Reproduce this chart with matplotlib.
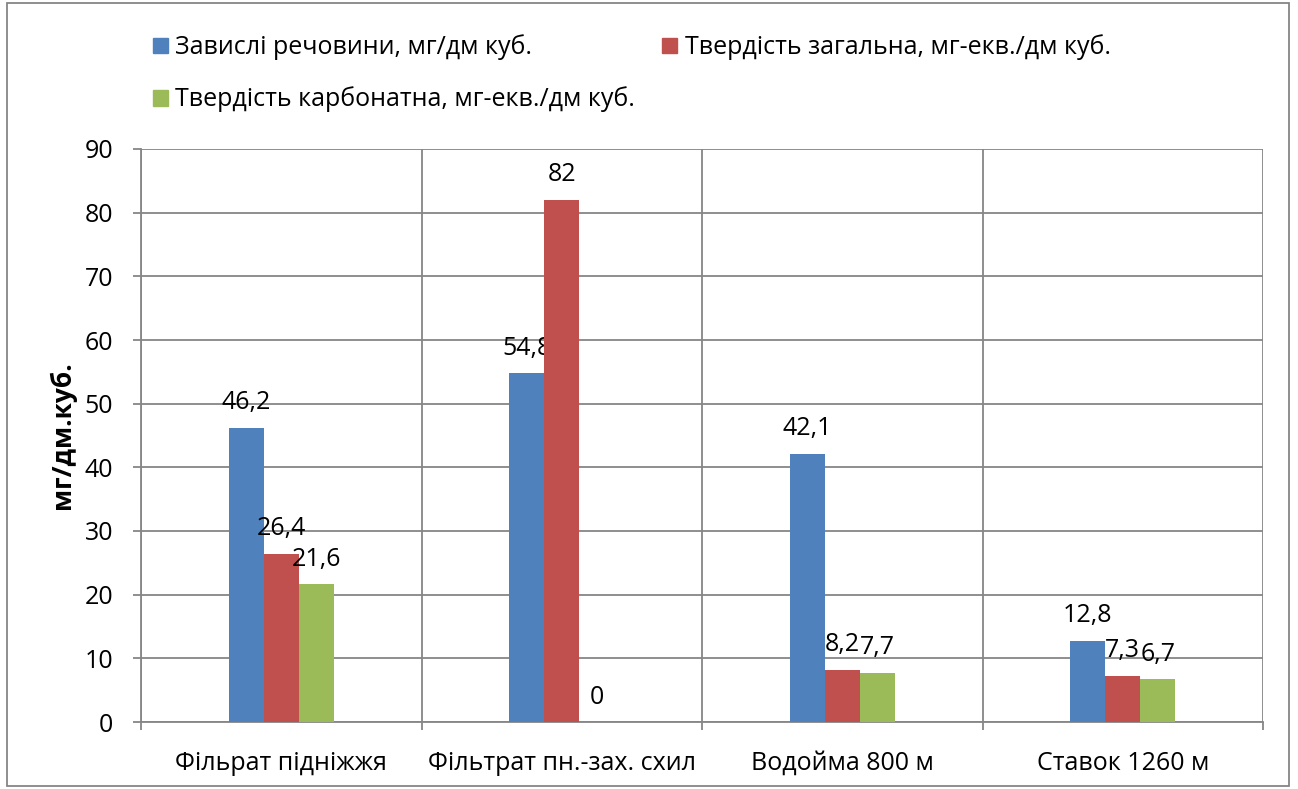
import matplotlib.pyplot as plt
import numpy as np
from matplotlib.patches import Rectangle, Patch

plt.rcParams['font.family'] = ['Open Sans', 'DejaVu Sans']

# data
categories = ['Фільрат підніжжя', 'Фільтрат пн.-зах. схил', 'Водойма 800 м', 'Ставок 1260 м']
series_names = ['Завислі речовини, мг/дм куб.',
                'Твердість загальна, мг-екв./дм куб.',
                'Твердість карбонатна, мг-екв./дм куб.']
suspended = [46.2, 54.8, 42.1, 12.8]
hardness_total = [26.4, 82, 8.2, 7.3]
hardness_carb = [21.6, 0, 7.7, 6.7]
colors = ['#4F81BD', '#C0504D', '#9BBB59']

W, H = 1298, 789
fig = plt.figure(figsize=(W / 100, H / 100), dpi=100)
ax = fig.add_axes([141 / W, 1 - 722 / H, (1263 - 141) / W, (722 - 149) / H])

grid_c = '#868686'
fs = 18

x = np.arange(len(categories))
bw = 0.125
all_vals = [suspended, hardness_total, hardness_carb]
for i, (vals, name, c) in enumerate(zip(all_vals, series_names, colors)):
    bars = ax.bar(x + (i - 1) * bw, vals, bw, color=c, label=name, zorder=3)
    ax.bar_label(bars, labels=[('%g' % v).replace('.', ',') for v in vals],
                 padding=9, fontsize=fs)

ax.set_xlim(-0.5, len(categories) - 0.5)
ax.set_ylim(0, 90)
ax.set_yticks(np.arange(0, 91, 10))
ax.set_xticks(x)
ax.set_xticklabels(categories)
ax.set_xticks(np.arange(-0.5, len(categories), 1.0), minor=True)
ax.tick_params(axis='x', which='major', length=0, pad=21, labelsize=fs)
ax.tick_params(axis='x', which='minor', length=6, width=1.3, color=grid_c, direction='out')
ax.tick_params(axis='y', length=6, width=1.3, color=grid_c, pad=14, labelsize=fs)

ax.grid(axis='y', color=grid_c, linewidth=1.3, zorder=0)
ax.grid(axis='x', which='minor', color=grid_c, linewidth=1.3, zorder=0)
for side in ['top', 'right']:
    ax.spines[side].set_visible(False)
for side in ['left', 'bottom']:
    ax.spines[side].set_color(grid_c)
    ax.spines[side].set_linewidth(1.3)

fig.text(62 / W, 1 - 435 / H, 'мг/дм.куб.', rotation=90, ha='center', va='center',
         fontsize=19, fontweight='bold')

# legend filled row by row: blue, red / green
order = [0, 2, 1]
handles = [Patch(color=colors[k]) for k in order]
fig.legend(handles, [series_names[k] for k in order], ncol=2, loc='upper left',
           bbox_to_anchor=(130 / W, 1 - 12 / H), frameon=False, fontsize=fs,
           handlelength=0.6, handleheight=0.6, handletextpad=0.3,
           columnspacing=1.1, labelspacing=1.05)

# outer chart border
fig.patches.append(Rectangle((7 / W, 3 / H), (1289 - 7) / W, (786 - 3) / H,
                             transform=fig.transFigure, fill=False,
                             edgecolor=grid_c, linewidth=1.3))

fig.savefig('out.png', dpi=100)
